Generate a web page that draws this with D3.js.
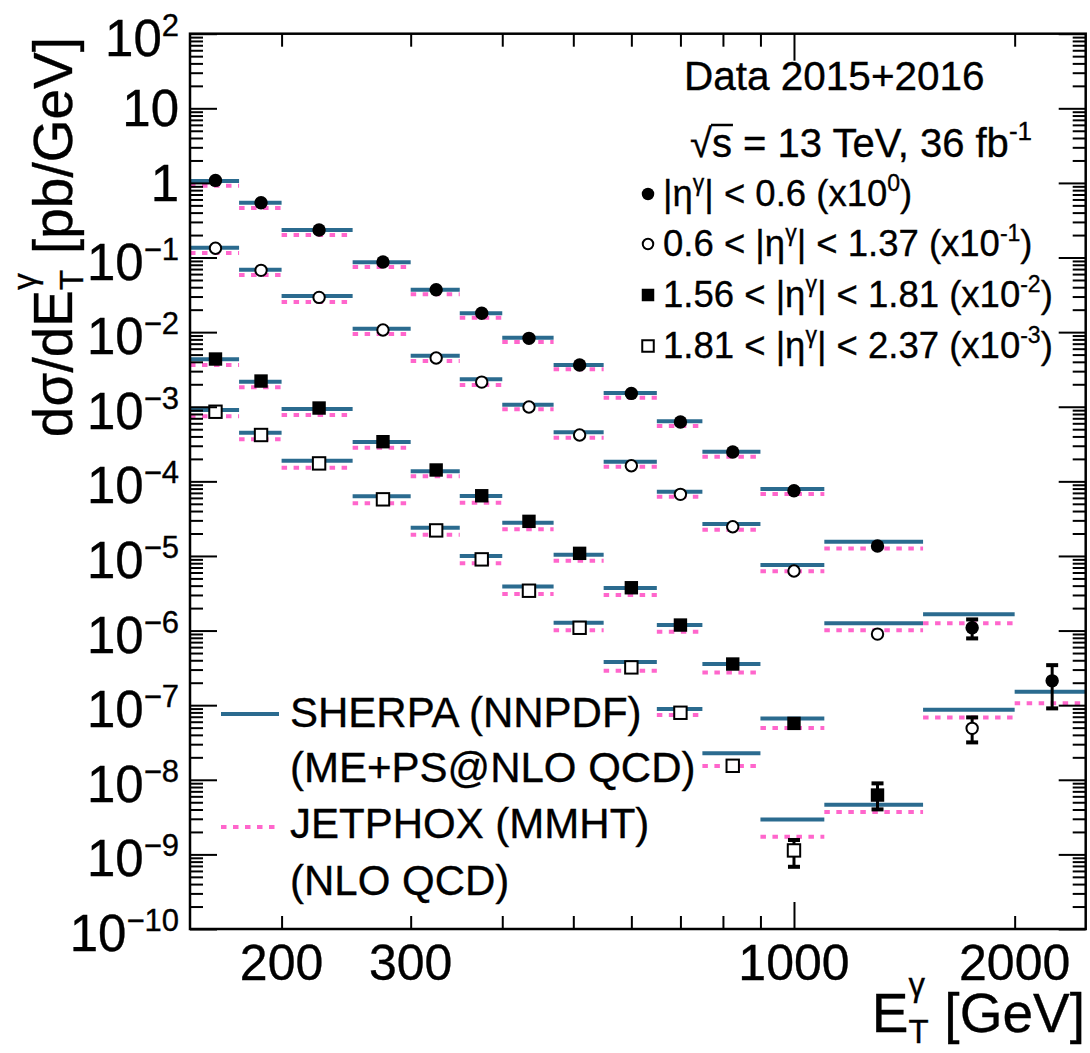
<!DOCTYPE html>
<html>
<head>
<meta charset="utf-8">
<script src="https://cdn.jsdelivr.net/npm/d3@7"></script>
<style>
  body { margin: 0; background: #fff; }
  svg { display: block; }
  text { font-family: "Liberation Sans", Arial, Helvetica, sans-serif; fill: #000; stroke: #000; stroke-width: 0.35px; }
</style>
</head>
<body>
<svg id="chart" width="1090" height="1053"></svg>
<script>
// ---- E_T bins (GeV) ----
const binEdges = [150, 175, 200, 250, 300, 350, 400, 470, 550, 650, 750, 900, 1100, 1500, 2000, 2500];

// ---- |eta| regions, their display scale factors and marker styles ----
const etaLow   = [null, 0.6, 1.56, 1.81];
const etaHigh  = [0.6, 1.37, 1.81, 2.37];
const scalePow = [0, -1, -2, -3];
const markerKinds = ["circleFilled", "circleOpen", "squareFilled", "squareOpen"];

// ---- dsigma/dE_T [pb/GeV], unscaled ----
// |eta| < 0.6
const data0    = [1.08, 0.543, 0.234, 0.0871, 0.0370, 0.01787, 8.26e-3, 3.62e-3, 1.51e-3, 6.24e-4, 2.47e-4, 7.48e-5, 1.36e-5, 1.09e-6, 2.12e-7];
const sherpa0  = [1.06, 0.543, 0.234, 0.0863, 0.0370, 0.01787, 8.41e-3, 3.62e-3, 1.53e-3, 6.37e-4, 2.49e-4, 7.89e-5, 1.55e-5, 1.66e-6, 1.51e-7];
const jetphox0 = [0.916, 0.461, 0.200, 0.0746, 0.0321, 0.0156, 7.36e-3, 3.17e-3, 1.32e-3, 5.51e-4, 2.14e-4, 6.76e-5, 1.26e-5, 1.25e-6, 1.06e-7];
const errLo0   = [null, null, null, null, null, null, null, null, null, null, null, null, null, 7.85e-7, 9.06e-8];
const errHi0   = [null, null, null, null, null, null, null, null, null, null, null, null, null, 1.41e-6, 3.44e-7];

// 0.6 < |eta| < 1.37
const data1    = [1.33, 0.673, 0.292, 0.1067, 0.0450, 0.0214, 9.91e-3, 4.18e-3, 1.62e-3, 6.70e-4, 2.46e-4, 6.28e-5, 8.97e-6, 4.89e-7];
const sherpa1  = [1.353, 0.686, 0.305, 0.1111, 0.0483, 0.0233, 1.064e-2, 4.54e-3, 1.83e-3, 7.26e-4, 2.68e-4, 7.55e-5, 1.25e-5, 8.67e-7];
const jetphox1 = [1.148, 0.582, 0.253, 0.0942, 0.0410, 0.0195, 9.23e-3, 3.84e-3, 1.57e-3, 6.22e-4, 2.24e-4, 6.22e-5, 1.007e-5, 6.86e-7];
const errLo1   = [null, null, null, null, null, null, null, null, null, null, null, null, null, 3.17e-7];
const errHi1   = [null, null, null, null, null, null, null, null, null, null, null, null, null, 6.86e-7];

// 1.56 < |eta| < 1.81
const data2    = [0.436, 0.221, 0.0961, 0.0340, 0.0142, 6.41e-3, 2.91e-3, 1.084e-3, 3.75e-4, 1.185e-4, 3.56e-5, 5.70e-6, 6.24e-7];
const sherpa2  = [0.432, 0.216, 0.0931, 0.0337, 0.0137, 6.35e-3, 2.79e-3, 1.038e-3, 3.71e-4, 1.185e-4, 3.56e-5, 6.65e-6, 4.62e-7];
const jetphox2 = [0.362, 0.182, 0.0774, 0.0282, 0.0117, 5.16e-3, 2.28e-3, 8.63e-4, 2.99e-4, 9.64e-5, 2.75e-5, 4.93e-6, 3.69e-7];
const errLo2   = [null, null, null, null, null, null, null, null, null, null, null, null, 4.01e-7];
const errHi2   = [null, null, null, null, null, null, null, null, null, null, null, null, 8.95e-7];

// 1.81 < |eta| < 2.37
const data3    = [0.857, 0.418, 0.174, 0.0574, 0.0220, 9.00e-3, 3.42e-3, 1.09e-3, 3.21e-4, 7.91e-5, 1.54e-5, 1.13e-6];
const sherpa3  = [0.903, 0.448, 0.189, 0.0630, 0.0239, 9.97e-3, 3.91e-3, 1.27e-3, 3.78e-4, 8.87e-5, 2.26e-5, 2.94e-6];
const jetphox3 = [0.743, 0.366, 0.152, 0.0507, 0.0192, 7.96e-3, 3.08e-3, 1.007e-3, 2.89e-4, 7.36e-5, 1.53e-5, 1.72e-6];
const errLo3   = [null, null, null, null, null, null, null, null, null, null, null, 6.82e-7];
const errHi3   = [null, null, null, null, null, null, null, null, null, null, null, 1.56e-6];

// ---- axis ticks ----
const xMinorTicks = [200, 300, 400, 500, 600, 700, 800, 900, 2000];
const xMajorTicks = [1000];
const xTickLabels = [200, 300, 1000, 2000];
const yDecades = d3.range(-10, 3);

// ---- theory legend entries ----
const theoryLines = [
  ["SHERPA (NNPDF)", "(ME+PS@NLO QCD)"],
  ["JETPHOX (MMHT)", "(NLO QCD)"]
];

const BLUE = "#2b6b8f";
const PINK = "#ff66cc";

const series = [0, 1, 2, 3].map(k => ({
  kind: markerKinds[k],
  pow: scalePow[k],
  data: [data0, data1, data2, data3][k],
  sherpa: [sherpa0, sherpa1, sherpa2, sherpa3][k],
  jetphox: [jetphox0, jetphox1, jetphox2, jetphox3][k],
  lo: [errLo0, errLo1, errLo2, errLo3][k],
  hi: [errHi0, errHi1, errHi2, errHi3][k]
}));

// ---- frame & scales ----
const X0 = 190, X1 = 1085.7, Y0 = 33.7, Y1 = 929;
const x = d3.scaleLog().domain([150, 2500]).range([X0, X1]);
const y = d3.scaleLog().domain([1e-10, 1e2]).range([Y1, Y0]);

const svg = d3.select("#chart");

// flattened rows, one per bin and region
const rows = [];
series.forEach(s => {
  const f = Math.pow(10, s.pow);
  s.data.forEach((v, i) => {
    rows.push({
      kind: s.kind,
      x0: binEdges[i], x1: binEdges[i + 1], xc: (binEdges[i] + binEdges[i + 1]) / 2,
      v: v * f, sh: s.sherpa[i] * f, jp: s.jetphox[i] * f,
      lo: s.lo[i] == null ? null : s.lo[i] * f,
      hi: s.hi[i] == null ? null : s.hi[i] * f
    });
  });
});

// theory predictions: horizontal lines across each bin
const gTheory = svg.append("g");
gTheory.selectAll("line.sherpa").data(rows).join("line").attr("class", "sherpa")
  .attr("x1", d => x(d.x0)).attr("x2", d => x(d.x1))
  .attr("y1", d => y(d.sh)).attr("y2", d => y(d.sh))
  .attr("stroke", BLUE).attr("stroke-width", 4);
gTheory.selectAll("line.jetphox").data(rows).join("line").attr("class", "jetphox")
  .attr("x1", d => x(d.x0)).attr("x2", d => x(d.x1))
  .attr("y1", d => y(d.jp)).attr("y2", d => y(d.jp))
  .attr("stroke", PINK).attr("stroke-width", 4).attr("stroke-dasharray", "5.5,6.5");

// data uncertainties
const errRows = rows.filter(d => d.lo != null);
const gErr = svg.append("g");
gErr.selectAll("line").data(errRows).join("line")
  .attr("x1", d => x(d.xc)).attr("x2", d => x(d.xc))
  .attr("y1", d => y(d.hi)).attr("y2", d => y(d.lo))
  .attr("stroke", "#000").attr("stroke-width", 3);
gErr.selectAll("rect.capHi").data(errRows).join("rect").attr("class", "capHi")
  .attr("x", d => x(d.xc) - 6).attr("y", d => y(d.hi) - 2).attr("width", 12).attr("height", 4);
gErr.selectAll("rect.capLo").data(errRows).join("rect").attr("class", "capLo")
  .attr("x", d => x(d.xc) - 6).attr("y", d => y(d.lo) - 2).attr("width", 12).attr("height", 4);

function marker(g, kind, cx, cy, size) {
  const open = kind.endsWith("Open");
  if (kind.startsWith("circle")) {
    g.append("circle").attr("cx", cx).attr("cy", cy)
      .attr("r", open ? size / 2 - 1 : size / 2)
      .attr("fill", open ? "#fff" : "#000")
      .attr("stroke", open ? "#000" : "none").attr("stroke-width", 2);
  } else {
    const a = open ? size - 1 : size;
    g.append("rect").attr("x", cx - a / 2).attr("y", cy - a / 2).attr("width", a).attr("height", a)
      .attr("fill", open ? "#fff" : "#000")
      .attr("stroke", open ? "#000" : "none").attr("stroke-width", 2);
  }
}

// data markers
const gMarks = svg.append("g");
rows.forEach(d => marker(gMarks, d.kind, x(d.xc), y(d.v), 13.4));

// ---- frame ----
svg.append("rect").attr("x", X0).attr("y", Y0).attr("width", X1 - X0).attr("height", Y1 - Y0)
  .attr("fill", "none").attr("stroke", "#000").attr("stroke-width", 2.5);

// ---- y axis ticks (inner, both sides) ----
const yMajor = yDecades.map(e => Math.pow(10, e));
const yMinor = [];
yDecades.slice(0, -1).forEach(e => d3.range(2, 10).forEach(m => yMinor.push(m * Math.pow(10, e))));

function styleAxis(g) {
  g.select(".domain").remove();
  g.selectAll(".tick line").attr("stroke-width", 2);
}
svg.append("g").attr("transform", `translate(${X0},0)`)
  .call(d3.axisRight(y).tickValues(yMajor).tickSize(27).tickFormat("")).call(styleAxis);
svg.append("g").attr("transform", `translate(${X0},0)`)
  .call(d3.axisRight(y).tickValues(yMinor).tickSize(13).tickFormat("")).call(styleAxis);
svg.append("g").attr("transform", `translate(${X1},0)`)
  .call(d3.axisLeft(y).tickValues(yMajor).tickSize(27).tickFormat("")).call(styleAxis);
svg.append("g").attr("transform", `translate(${X1},0)`)
  .call(d3.axisLeft(y).tickValues(yMinor).tickSize(13).tickFormat("")).call(styleAxis);

// ---- x axis ticks (inner, top and bottom) ----
svg.append("g").attr("transform", `translate(0,${Y1})`)
  .call(d3.axisTop(x).tickValues(xMinorTicks).tickSize(13).tickFormat("")).call(styleAxis);
svg.append("g").attr("transform", `translate(0,${Y1})`)
  .call(d3.axisTop(x).tickValues(xMajorTicks).tickSize(27).tickFormat("")).call(styleAxis);
svg.append("g").attr("transform", `translate(0,${Y0})`)
  .call(d3.axisBottom(x).tickValues(xMinorTicks).tickSize(13).tickFormat("")).call(styleAxis);
svg.append("g").attr("transform", `translate(0,${Y0})`)
  .call(d3.axisBottom(x).tickValues(xMajorTicks).tickSize(27).tickFormat("")).call(styleAxis);

// ---- y tick labels: 10^n ----
const gYLab = svg.append("g");
yDecades.forEach(e => {
  const hasSup = !(e === 0 || e === 1);
  const t = gYLab.append("text").attr("x", 179).attr("y", y(Math.pow(10, e)) + (hasSup ? 22 : 18))
    .attr("text-anchor", "end").attr("font-size", 51);
  if (e === 0) { t.text("1"); return; }
  t.append("tspan").text("10");
  if (hasSup) {
    t.append("tspan").attr("font-size", 31).attr("dy", -20).text(e < 0 ? "\u2212" + (-e) : String(e));
  }
});

// ---- x tick labels ----
svg.append("g").selectAll("text").data(xTickLabels).join("text")
  .attr("x", d => x(d)).attr("y", 980).attr("text-anchor", "middle").attr("font-size", 50)
  .text(d => d);

// ---- axis titles ----
function titleET(t, main, rest) {
  t.append("tspan").text(main);
  t.append("tspan").attr("font-size", 33).attr("dy", 11).text("T");
  t.append("tspan").attr("font-size", 33).attr("dx", -20).attr("dy", -47).text("\u03b3");
  t.append("tspan").attr("dx", 4).attr("dy", 36).text(rest);
}
titleET(svg.append("text").attr("x", 1085).attr("y", 1032).attr("text-anchor", "end").attr("font-size", 55),
  "E", " [GeV]");
titleET(svg.append("text").attr("transform", "translate(72,37) rotate(-90)").attr("text-anchor", "end").attr("font-size", 55),
  "d\u03c3/dE", " [pb/GeV]");

// ---- header ----
svg.append("text").attr("x", 684).attr("y", 90).attr("font-size", 40.5).text("Data 2015+2016");
const lumi = svg.append("text").attr("x", 690).attr("y", 157).attr("font-size", 40);
lumi.append("tspan").text("\u221as = 13 TeV, 36 fb");
lumi.append("tspan").attr("font-size", 26).attr("dy", -17).text("-1");
{
  const node = lumi.node();
  const sx0 = node.getStartPositionOfChar(1).x, sx1 = node.getEndPositionOfChar(1).x;
  svg.append("line").attr("x1", sx0 - 1).attr("x2", sx1 + 1).attr("y1", 125).attr("y2", 125)
    .attr("stroke", "#000").attr("stroke-width", 2.5);
}

// ---- |eta| legend ----
const legBase = [206, 256, 307, 358];
series.forEach((s, k) => {
  const by = legBase[k];
  marker(svg, s.kind, 648, by - 12, 12.5);
  const t = svg.append("text").attr("x", 663).attr("y", by).attr("font-size", 36.5);
  t.append("tspan").text((etaLow[k] != null ? etaLow[k] + " < " : "") + "|\u03b7");
  t.append("tspan").attr("font-size", 23).attr("dy", -15).text("\u03b3");
  t.append("tspan").attr("dy", 15).text("| < " + etaHigh[k] + " (x10");
  t.append("tspan").attr("font-size", 23).attr("dy", -15).text(String(scalePow[k]));
  t.append("tspan").attr("dy", 15).text(")");
});

// ---- theory legend ----
const legLineY = [714, 827];
const legTextY = [[727, 782], [838, 895]];
[BLUE, PINK].forEach((c, k) => {
  const ln = svg.append("line").attr("x1", 221).attr("x2", 279).attr("y1", legLineY[k]).attr("y2", legLineY[k])
    .attr("stroke", c).attr("stroke-width", 4);
  if (k === 1) ln.attr("stroke-dasharray", "5.5,6.5");
  theoryLines[k].forEach((txt, j) => {
    svg.append("text").attr("x", 290).attr("y", legTextY[k][j]).attr("font-size", 42).text(txt);
  });
});
</script>
</body>
</html>
